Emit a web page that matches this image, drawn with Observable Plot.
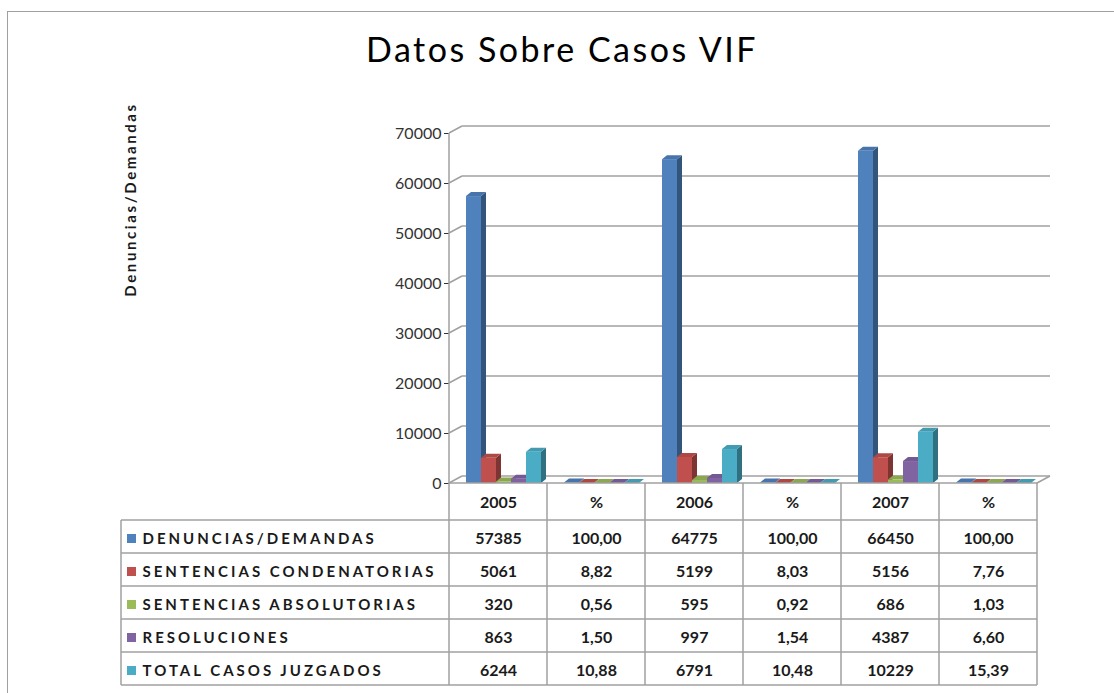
<!DOCTYPE html>
<html><head><meta charset="utf-8">
<script src="https://cdn.jsdelivr.net/npm/d3@7"></script>
<script src="https://cdn.jsdelivr.net/npm/@observablehq/plot@0.6"></script>
<style>
html,body{margin:0;padding:0;background:#fff;}
body{width:1114px;height:693px;position:relative;overflow:hidden;font-family:Lato,"Open Sans",sans-serif;}
#frame{position:absolute;left:7px;top:11px;width:1200px;height:800px;border-left:1.5px solid #a0a0a0;border-top:1.5px solid #a0a0a0;}
#title{position:absolute;left:0;top:29px;width:1124px;text-align:center;font-size:34px;letter-spacing:2.5px;color:#000;line-height:40px;}
#chart{position:absolute;left:0;top:0;}
</style></head><body>
<div id="frame"></div>
<div id="title"></div>
<div id="chart"></div>
<script>
const title = "Datos Sobre Casos VIF";
const yLabel = "Denuncias/Demandas";
const categories = ["2005", "%", "2006", "%", "2007", "%"];
const series = ["DENUNCIAS/DEMANDAS", "SENTENCIAS CONDENATORIAS", "SENTENCIAS ABSOLUTORIAS", "RESOLUCIONES", "TOTAL CASOS JUZGADOS"];
const denuncias     = [57385, 100.00, 64775, 100.00, 66450, 100.00];
const condenatorias = [5061, 8.82, 5199, 8.03, 5156, 7.76];
const absolutorias  = [320, 0.56, 595, 0.92, 686, 1.03];
const resoluciones  = [863, 1.50, 997, 1.54, 4387, 6.60];
const totalJuzgados = [6244, 10.88, 6791, 10.48, 10229, 15.39];
const seriesColors = ["#4F81BD", "#C0504D", "#9BBB59", "#8064A2", "#4BACC6"];
const yTicks = [0, 10000, 20000, 30000, 40000, 50000, 60000, 70000];

const seriesValues = [denuncias, condenatorias, absolutorias, resoluciones, totalJuzgados];
const isPercent = categories.map(c => c === "%");
const fmt = (v, k) => isPercent[k] ? v.toFixed(2).replace(".", ",") : String(v);

document.getElementById("title").textContent = title;

// layout
const W = 1114, H = 693, mL = 449, mR = 77, mT = 133, mB = 210;
const BW = (W - mL - mR) / categories.length;
const GROUP = 17, BAR = 15;          // bar placement inside a band
const DX = 5, DY = -4;               // bar depth
const WX = 13, WY = -7;              // wall depth
const GRID = "#a0a0a0";
const headerH = 37, rowH = 33, legendLeft = 121, TXT = 6.5;

function walls(index, scales, values, dim) {
  const g = d3.create("svg:g").attr("stroke", GRID).attr("stroke-width", 1.5).attr("fill", "none");
  const xL = dim.marginLeft, xR = dim.width - dim.marginRight;
  const y = scales.y;
  for (const v of yTicks) {
    const yy = y(v);
    g.append("line").attr("x1", xL).attr("y1", yy).attr("x2", xL + WX).attr("y2", yy + WY);
    g.append("line").attr("x1", xL + WX).attr("y1", yy + WY).attr("x2", xR + WX).attr("y2", yy + WY);
  }
  const yMin = y(yTicks[0]), yMax = y(yTicks[yTicks.length - 1]);
  g.append("line").attr("x1", xL).attr("y1", yMax).attr("x2", xL).attr("y2", yMin);
  g.append("line").attr("x1", xR).attr("y1", yMin).attr("x2", xR + WX).attr("y2", yMin + WY);
  return g.node();
}

function bars3d(index, scales, values, dim) {
  const g = d3.create("svg:g");
  const {x, y} = scales;
  const y0 = y(0);
  categories.forEach((c, k) => {
    seriesValues.forEach((vals, j) => {
      const xl = x(k) + GROUP + BAR * j, xr = xl + BAR, yt = y(vals[k]);
      const col = d3.color(seriesColors[j]);
      g.append("polygon")
        .attr("points", [[xr, yt], [xr + DX, yt + DY], [xr + DX, y0 + DY], [xr, y0]].join(" "))
        .attr("fill", col.darker(1.2).formatHex());
      g.append("polygon")
        .attr("points", [[xl, yt], [xl + DX, yt + DY], [xr + DX, yt + DY], [xr, yt]].join(" "))
        .attr("fill", col.darker(0.3).formatHex());
    });
  });
  return g.node();
}

function table(index, scales, values, dim) {
  const g = d3.create("svg:g");
  const lines = g.append("g").attr("stroke", GRID).attr("stroke-width", 1.5).attr("fill", "none");
  const x = scales.x;
  const top = dim.height - dim.marginBottom;
  const xL = dim.marginLeft, xR = dim.width - dim.marginRight;
  const rowTop = top + headerH;
  const bottom = rowTop + rowH * series.length;
  lines.append("line").attr("x1", xL).attr("y1", top).attr("x2", xR).attr("y2", top);
  for (let i = 0; i <= series.length; i++) {
    const yy = rowTop + rowH * i;
    lines.append("line").attr("x1", legendLeft).attr("y1", yy).attr("x2", xR).attr("y2", yy);
  }
  categories.forEach((c, k) => {
    lines.append("line").attr("x1", x(k)).attr("y1", top).attr("x2", x(k)).attr("y2", bottom);
  });
  lines.append("line").attr("x1", xR).attr("y1", top).attr("x2", xR).attr("y2", bottom);
  lines.append("line").attr("x1", legendLeft).attr("y1", rowTop).attr("x2", legendLeft).attr("y2", bottom);
  series.forEach((s, i) => {
    const cy = rowTop + rowH * (i + 0.5) + 2;
    g.append("rect").attr("x", 127).attr("y", cy - 4.5).attr("width", 9).attr("height", 9).attr("fill", seriesColors[i]);
  });
  return g.node();
}

const frontBars = seriesValues.map((vals, j) =>
  Plot.barY(vals, {
    x: (d, k) => k, y: d => d, fill: seriesColors[j],
    insetLeft: GROUP + BAR * j, insetRight: BW - GROUP - BAR * (j + 1)
  })
);

const textMarks = [];
textMarks.push(Plot.text(categories, {
  x: (d, k) => k, text: d => d, frameAnchor: "bottom", dy: headerH / 2 + TXT - 1,
  fontSize: 16, fontWeight: "bold", fill: "#1a1a1a"
}));
seriesValues.forEach((vals, i) => {
  const dy = headerH + rowH * (i + 0.5) + TXT;
  textMarks.push(Plot.text(vals, {
    x: (d, k) => k, text: (d, k) => fmt(d, k), frameAnchor: "bottom", dy,
    fontSize: 16, fontWeight: "bold", fill: "#1a1a1a"
  }));
  textMarks.push(Plot.text([series[i]], {
    text: d => d, frameAnchor: "bottom-left", textAnchor: "start", dx: 142 - mL, dy,
    fontSize: 15, fontWeight: "bold", fill: "#1a1a1a"
  }));
});
textMarks.push(Plot.text([yLabel], {
  text: d => d, frameAnchor: "left", textAnchor: "middle", rotate: -90,
  dx: 131 - mL, dy: 199 - (mT + (H - mB - mT) / 2),
  fontSize: 15, fontWeight: "bold", fill: "#1a1a1a"
}));

const chart = Plot.plot({
  width: W, height: H,
  marginLeft: mL, marginRight: mR, marginTop: mT, marginBottom: mB,
  style: {fontFamily: "Lato, 'Open Sans', sans-serif", fontSize: "16px", color: "#333", background: "none", overflow: "visible"},
  x: {type: "band", domain: categories.map((c, k) => k), padding: 0, axis: null},
  y: {domain: [0, 70000], ticks: yTicks, tickFormat: d => String(d), tickSize: 5, tickPadding: 3, label: null},
  marks: [walls, bars3d, ...frontBars, table, ...textMarks]
});
chart.querySelectorAll("text").forEach(t => {
  const s = t.textContent;
  if (series.includes(s)) t.style.letterSpacing = "3px";
  if (s === yLabel) t.style.letterSpacing = "2.6px";
});
document.getElementById("chart").appendChild(chart);
</script>
</body></html>
